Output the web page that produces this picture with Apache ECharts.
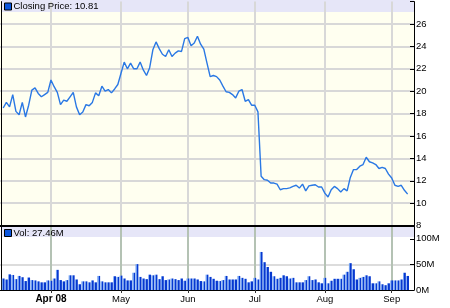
<!DOCTYPE html>
<html><head><meta charset="utf-8">
<script src="https://cdn.jsdelivr.net/npm/echarts@6/dist/echarts.min.js"></script>
<style>html,body{margin:0;padding:0;background:#fff}#c{width:450px;height:308px}</style>
</head><body><div id="c"></div>
<script>
// ---- data ----
const startDate = '2008-03-10';
const endDate = '2008-09-09';
const holidays = ['2008-03-21', '2008-05-26', '2008-07-04', '2008-09-01'];
const tickMonths = ['2008-04', '2008-05', '2008-06', '2008-07', '2008-08', '2008-09'];
const tickLabels = ['Apr 08', 'May', 'Jun', 'Jul', 'Aug', 'Sep'];
const closingPrice = [
  18.5, 19.0, 18.6, 19.7, 18.2, 17.9, 19.0, 17.7, 18.75, 20.1,
  20.3, 19.8, 19.5, 19.7, 19.9, 21.0, 20.4, 19.9, 18.8, 19.2,
  19.1, 19.5, 19.9, 18.6, 17.9, 18.15, 18.8, 18.7, 19.0, 19.85,
  19.6, 20.45, 20.0, 20.15, 19.85, 20.2, 20.6, 21.6, 22.6, 22.0,
  22.5, 22.0, 22.0, 22.6, 21.9, 21.4, 22.1, 23.7, 24.4, 23.8,
  23.3, 23.1, 23.7, 23.1, 23.4, 23.6, 23.55, 24.7, 24.8, 24.06,
  24.3, 24.9, 24.2, 23.75, 22.5, 21.3,
  21.4, 21.3, 21.0, 20.45, 19.95, 19.9, 19.7, 19.4, 20.0, 20.15,
  19.1, 19.25, 18.75, 18.75, 18.15,
  12.4, 12.1, 12.05, 11.8, 11.8, 11.7, 11.2, 11.3, 11.3, 11.37,
  11.5, 11.6, 11.35, 11.7, 11.1, 11.55, 11.6, 11.65, 11.45, 11.45,
  10.9, 10.55, 11.2, 11.5, 11.3, 11.0, 11.3, 11.1, 12.3, 13.0,
  13.0, 13.3, 13.45, 14.1, 13.7, 13.6, 13.45, 13.1, 13.2, 13.1,
  12.6, 12.25, 11.6, 11.5, 11.6, 11.15, 10.81
];
const volumeM = [
  22.5, 20.6, 30.6, 29.4, 21.3, 27.5, 25, 17.5, 24.4, 19.4,
  18.75, 16.9, 15, 15, 18.75, 18.1, 22.5, 39.4, 19.4, 16.9,
  19.4, 28.75, 28.75, 20.6, 11.25, 16.9, 16.9, 15, 18.75, 15,
  27.5, 16.9, 15, 15, 15, 26.9, 25.6, 28.1, 22.5, 18.75,
  18.75, 33.75, 50.6, 25.6, 22.5, 21.25, 30, 28.75, 30, 21.25,
  26.9, 19.4, 20.6, 22.5, 21.25, 19.4, 22.5, 18.1, 22.5, 22.5,
  22.5, 20.6, 17.5,
  16.9, 30, 25.6, 21.9, 18.1, 17.5, 19.4, 27.5, 20.6, 20.6,
  20.6, 27.5, 23.75, 21.9, 15, 16.9, 23.75, 20.6, 74.4, 54.4,
  45, 35.6, 26.9, 21.9, 23.75, 28.75, 26.9, 22.5, 23.75, 15,
  15, 15, 19.4, 26.9, 19.4, 20.6, 15, 13.1, 23.75, 13.1,
  18.1, 21.9, 21.9, 21.9, 30, 35.6, 52.5, 40.6, 20.6, 23.75,
  25.6, 28.75, 26.9, 13.1, 13.1, 16.9, 11.25, 9.4, 13.1, 18.75,
  18.75, 18.75, 20.6, 33.75, 27.46
];

// ---- trading-day categories ----
function tradingDays(s, e, hol) {
  const out = [];
  const d = new Date(s + 'T00:00:00Z'), end = new Date(e + 'T00:00:00Z');
  while (d <= end) {
    const iso = d.toISOString().slice(0, 10);
    const wd = d.getUTCDay();
    if (wd !== 0 && wd !== 6 && hol.indexOf(iso) < 0) out.push(iso);
    d.setUTCDate(d.getUTCDate() + 1);
  }
  return out;
}
const dates = tradingDays(startDate, endDate, holidays);
const categories = ['pre'].concat(dates, ['post1', 'post2']);
const isMonthStart = (idx) => {
  const v = categories[idx], p = categories[idx - 1];
  if (!v || !p || v.length !== 10 || p.length !== 10) return false;
  return v.slice(0, 7) !== p.slice(0, 7) && tickMonths.indexOf(v.slice(0, 7)) >= 0;
};
const FONT = 'Liberation Sans, Arial, sans-serif';
const lastPrice = closingPrice[closingPrice.length - 1];
const lastVol = volumeM[volumeM.length - 1];

const chart = echarts.init(document.getElementById('c'), null, {renderer: 'canvas'});
chart.setOption({
  animation: false,
  backgroundColor: '#ffffff',
  textStyle: {fontFamily: FONT},
  graphic: [
    {type: 'rect', z: -10, silent: true, shape: {x: 0, y: 0, width: 414, height: 225}, style: {fill: '#fffff0'}},
    {type: 'rect', z: -9, silent: true, shape: {x: 1, y: 0, width: 413, height: 12}, style: {fill: '#e6e6f8'}},
    {type: 'rect', z: -9, silent: true, shape: {x: 1, y: 227, width: 413, height: 10}, style: {fill: '#e6e6f8'}}
  ],
  legend: [
    {
      data: [{name: 'Closing Price', icon: 'rect', itemStyle: {color: '#0b55dd', borderColor: '#000', borderWidth: 1}}],
      left: 4, top: 1.5, padding: 0, itemWidth: 7, itemHeight: 7, selectedMode: false,
      formatter: n => n + ': ' + lastPrice.toFixed(2),
      textStyle: {fontSize: 9.5, color: '#000', fontFamily: FONT, padding: [0, 0, 0, -3]}
    },
    {
      data: [{name: 'Vol', icon: 'rect', itemStyle: {color: '#0b55dd', borderColor: '#000', borderWidth: 1}}],
      left: 4, top: 228, padding: 0, itemWidth: 7, itemHeight: 7, selectedMode: false,
      formatter: n => n + ': ' + lastVol.toFixed(2) + 'M',
      textStyle: {fontSize: 9.5, color: '#000', fontFamily: FONT, padding: [0, 0, 0, -3]}
    }
  ],
  grid: [
    {left: -0.94, right: 36, top: 1.6, height: 224, show: false},
    {left: -0.94, right: 36, top: 226.6, height: 63.4, show: false}
  ],
  xAxis: [
    {
      type: 'category', gridIndex: 0, data: categories, boundaryGap: false,
      axisLine: {show: true, lineStyle: {color: '#000', width: 2}},
      axisTick: {show: false}, axisLabel: {show: false},
      splitLine: {show: true, interval: isMonthStart, lineStyle: {color: '#d8d8d8', width: 2}}
    },
    {
      type: 'category', gridIndex: 1, data: categories, boundaryGap: false,
      axisLine: {show: true, lineStyle: {color: '#000', width: 1}},
      axisTick: {show: true, interval: isMonthStart, length: 3, lineStyle: {color: '#333'}},
      axisLabel: {
        show: true, interval: isMonthStart, margin: 4, fontSize: 9.5, color: '#000', fontFamily: FONT,
        formatter: v => {
          const lab = tickLabels[tickMonths.indexOf(v.slice(0, 7))];
          return lab.indexOf(' ') >= 0 ? '{b|' + lab + '}' : lab;
        },
        rich: {b: {fontWeight: 'bold', fontSize: 10, fontFamily: FONT, color: '#000'}}
      },
      splitLine: {show: true, interval: isMonthStart, lineStyle: {color: '#b4c2b4', width: 2}}
    }
  ],
  yAxis: [
    {
      type: 'value', gridIndex: 0, position: 'right', min: 8, max: 28, interval: 2,
      axisLine: {show: true, lineStyle: {color: '#000', width: 1}},
      axisTick: {show: true, inside: true, length: 4, lineStyle: {color: '#000'}},
      axisLabel: {margin: 2, fontSize: 9.5, color: '#000', fontFamily: FONT, formatter: v => (v > 26 ? '' : String(v))},
      splitLine: {show: true, showMinLine: false, showMaxLine: false, lineStyle: {color: '#d8d8d8', width: 2}}
    },
    {
      type: 'value', gridIndex: 0, position: 'left', offset: -1.44, min: 8, max: 28,
      axisLine: {show: true, lineStyle: {color: '#000', width: 1}},
      axisTick: {show: false}, axisLabel: {show: false}, splitLine: {show: false}
    },
    {
      type: 'value', gridIndex: 1, position: 'right', min: 0, max: 124, interval: 50,
      axisLine: {show: true, lineStyle: {color: '#000', width: 1}},
      axisTick: {show: true, inside: true, length: 4, lineStyle: {color: '#000'}},
      axisLabel: {margin: 2, fontSize: 9.5, color: '#000', fontFamily: FONT, formatter: v => (v % 50 === 0 ? v + 'M' : '')},
      splitLine: {show: true, showMinLine: false, showMaxLine: false, lineStyle: {color: ['#dcdcdc', 'rgba(0,0,0,0)'], width: 2}}
    },
    {
      type: 'value', gridIndex: 1, position: 'left', offset: -1.44, min: 0, max: 124,
      axisLine: {show: true, lineStyle: {color: '#000', width: 1}},
      axisTick: {show: false}, axisLabel: {show: false}, splitLine: {show: false}
    }
  ],
  series: [
    {
      type: 'line', name: 'Closing Price', xAxisIndex: 0, yAxisIndex: 0,
      data: ['-'].concat(closingPrice), symbol: 'none', showSymbol: false,
      lineStyle: {color: '#2a78e4', width: 1.4}, itemStyle: {color: '#2a78e4'}
    },
    {
      type: 'bar', name: 'Vol', xAxisIndex: 1, yAxisIndex: 2,
      data: ['-'].concat(volumeM), barWidth: 2.8,
      itemStyle: {color: new echarts.graphic.LinearGradient(0, 0, 1, 0, [
        {offset: 0, color: '#6d9cf0'}, {offset: 0.42, color: '#6d9cf0'},
        {offset: 0.43, color: '#0638d0'}, {offset: 1, color: '#0638d0'}
      ])}
    }
  ]
});
</script>
</body></html>
